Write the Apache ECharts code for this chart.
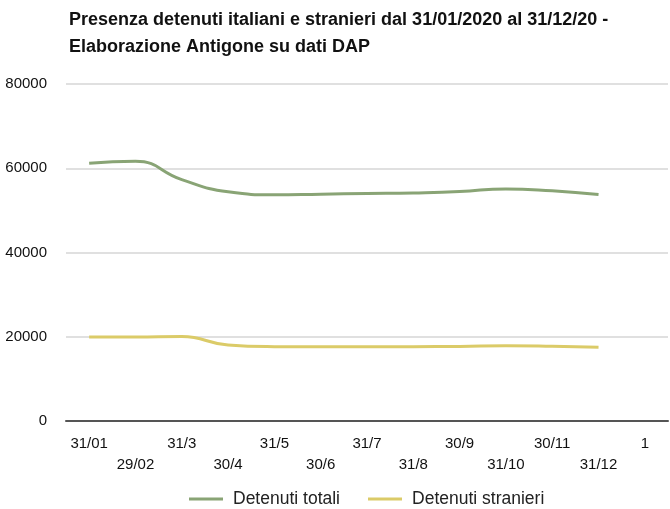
<!DOCTYPE html>
<html>
<head>
<meta charset="utf-8">
<script src="https://cdn.jsdelivr.net/npm/echarts@6/dist/echarts.min.js"></script>
<style>
  html, body { margin: 0; padding: 0; background: #fff; }
  #chart { width: 670px; height: 509px; }
</style>
</head>
<body>
<div id="chart"></div>
<script>
const categories = ["31/01", "29/02", "31/3", "30/4", "31/5", "30/6", "31/7", "31/8", "30/9", "31/10", "30/11", "31/12", "1"];
const detenutiTotali = [61200, 61640, 57300, 54400, 53700, 53850, 54000, 54150, 54470, 55100, 54630, 53750, null];
const detenutiStranieri = [19950, 19950, 20030, 18050, 17650, 17600, 17600, 17650, 17700, 17880, 17750, 17500, null];
const yTicks = [0, 20000, 40000, 60000, 80000];

const FONT = '"Liberation Sans", Arial, sans-serif';
const GREEN = "#89a475";
const YELLOW = "#dbcb68";

const chart = echarts.init(document.getElementById("chart"));

chart.setOption({
  animation: false,
  textStyle: { fontFamily: FONT },
  title: {
    text: "Presenza detenuti italiani e stranieri dal 31/01/2020 al 31/12/20 -\nElaborazione Antigone su dati DAP",
    left: 64,
    top: 2,
    textStyle: { fontSize: 18, fontWeight: "bold", color: "#111", lineHeight: 27, fontFamily: FONT },
  },
  legend: {
    top: 485,
    left: 184,
    icon: "rect",
    itemWidth: 34,
    itemHeight: 3,
    itemGap: 28,
    textStyle: { fontSize: 17.5, color: "#222", fontFamily: FONT, padding: [0, 0, 0, 5] },
    data: ["Detenuti totali", "Detenuti stranieri"],
  },
  grid: { left: 66, right: 2, top: 84, bottom: 88, containLabel: false },
  xAxis: {
    type: "category",
    boundaryGap: true,
    data: categories,
    axisLine: { lineStyle: { color: "#555", width: 2 } },
    axisTick: { show: false },
    axisLabel: {
      interval: 0,
      margin: 12,
      fontSize: 15,
      color: "#111",
      lineHeight: 21,
      formatter: (v, i) => (i % 2 ? "\n" + v : v),
    },
  },
  yAxis: {
    type: "value",
    min: yTicks[0],
    max: yTicks[yTicks.length - 1],
    interval: 20000,
    axisLine: { show: false },
    axisTick: { show: false },
    axisLabel: { fontSize: 15, color: "#111", margin: 19, formatter: (v) => String(v) },
    splitLine: { lineStyle: { color: "#d6d6d6", width: 1.5 } },
  },
  series: [
    {
      name: "Detenuti totali",
      type: "line",
      smooth: 0.5,
      showSymbol: false,
      data: detenutiTotali,
      itemStyle: { color: GREEN },
      lineStyle: { color: GREEN, width: 3 },
    },
    {
      name: "Detenuti stranieri",
      type: "line",
      smooth: 0.5,
      showSymbol: false,
      data: detenutiStranieri,
      itemStyle: { color: YELLOW },
      lineStyle: { color: YELLOW, width: 3 },
    },
  ],
});
</script>
</body>
</html>
